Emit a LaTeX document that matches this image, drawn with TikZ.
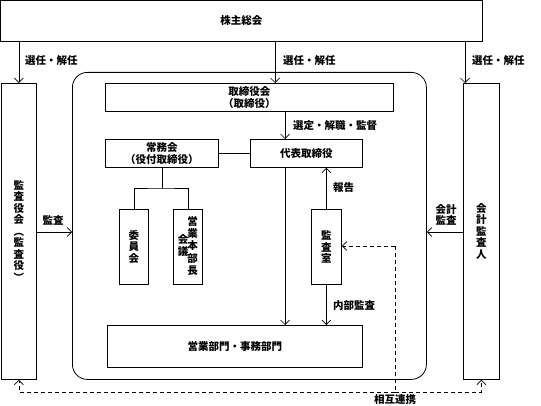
\documentclass[tikz,border=0pt]{standalone}
\usepackage{fontspec}
\setmainfont{Noto Sans CJK JP}
\usetikzlibrary{arrows.meta}
\newcommand{\vlp}{\rotatebox[origin=c]{-90}{（}}
\newcommand{\vrp}{\rotatebox[origin=c]{-90}{）}}
\begin{document}
\begin{tikzpicture}[x=1pt,y=-1pt,
  every node/.style={font=\fontsize{10.5}{11.5}\selectfont\bfseries, inner sep=0pt},
  box/.style={draw, line width=0.8pt, anchor=north west, align=center},
  arr/.style={-{Straight Barb[length=4.5pt,width=9pt]}, line width=0.7pt},
  ln/.style={line width=0.7pt},
  dsh/.style={dash pattern=on 4pt off 3pt, line width=0.7pt},
  lbl/.style={anchor=west}]
\useasboundingbox (0,0) rectangle (541,406);
% boxes
\node[box, minimum width=482pt, minimum height=41pt] (sh) at (0,0) {株主総会};
\node[box, minimum width=35pt, minimum height=296pt] (kansa) at (1,83) {監\\査\\役\\会\\\vlp\\監\\査\\役\\\vrp};
\node[box, minimum width=36pt, minimum height=296pt] (kaikei) at (463,83) {会\\計\\監\\査\\人};
\node[draw, line width=0.8pt, rounded corners=15pt, anchor=north west, minimum width=354pt, minimum height=307pt] (org) at (72,72) {};
\node[box, minimum width=288pt, minimum height=28pt] (tb) at (105,83) {取締役会\\（取締役）};
\node[box, minimum width=112pt, minimum height=28pt] (dh) at (250,139) {代表取締役};
\node[box, minimum width=113pt, minimum height=28pt] (jm) at (105,139) {常務会\\（役付取締役）};
\node[box, minimum width=29pt, minimum height=75pt] (iin) at (119,209) {委\\員\\会};
\node[box, minimum width=29pt, minimum height=75pt] (eig) at (173,209) {\begin{tabular}[c]{@{}c@{}}会\\議\end{tabular}\hspace{-1pt}\begin{tabular}[c]{@{}c@{}}営\\業\\本\\部\\長\end{tabular}};
\node[box, minimum width=30pt, minimum height=75pt] (ks) at (311,209) {監\\査\\室};
\node[box, minimum width=255pt, minimum height=42pt] (bumon) at (107,325) {営業部門・事務部門};
% helper coordinates
\coordinate (mt) at (275,83);
\coordinate (rt) at (465,83);
\coordinate (cx) at (285,0);
\coordinate (tr) at (161,188);
\coordinate (ay) at (0,232);
\coordinate (dv) at (395,246);
\coordinate (db) at (395,392);
% connectors
\draw[arr] (kansa.north |- sh.south) -- (kansa.north);
\draw[arr] (sh.south -| mt) -- (mt);
\draw[arr] (sh.south -| rt) -- (rt);
\draw[arr] (tb.south -| cx) -- (dh.north -| cx);
\draw[arr] (dh.south -| cx) -- (bumon.north -| cx);
\draw[ln] (jm.east) -- (dh.west);
\draw[ln] (jm.south) -- (jm.south |- tr);
\draw[ln] (iin.north) |- (tr) -| (eig.north);
\draw[arr] (ks.north) -- (ks.north |- dh.south);
\draw[arr] (ks.south) -- (ks.south |- bumon.north);
\draw[arr] (kansa.east |- ay) -- (org.west |- ay);
\draw[arr] (kaikei.west |- ay) -- (org.east |- ay);
\draw[dsh,arr] (dv) -- (ks.east |- dv);
\draw[dsh] (dv) -- (db);
\draw[dsh,arr] (db) -| (kansa.south);
\draw[dsh,arr] (db) -| (kaikei.south);
% labels
\node[lbl] (l1) at (25,61) {選任・解任};
\node[lbl] (l2) at (283,61) {選任・解任};
\node[lbl] (l3) at (472,61) {選任・解任};
\node[lbl] (l4) at (293,126) {選定・解職・監督};
\node[lbl] (l5) at (333,188) {報告};
\node[lbl] (l6) at (333,306) {内部監査};
\node[align=center] (l7) at (446,215) {会計\\監査};
\node (l8) at (53,220) {監査};
\node (l9) at (395,400) {相互連携};
\end{tikzpicture}
\end{document}
